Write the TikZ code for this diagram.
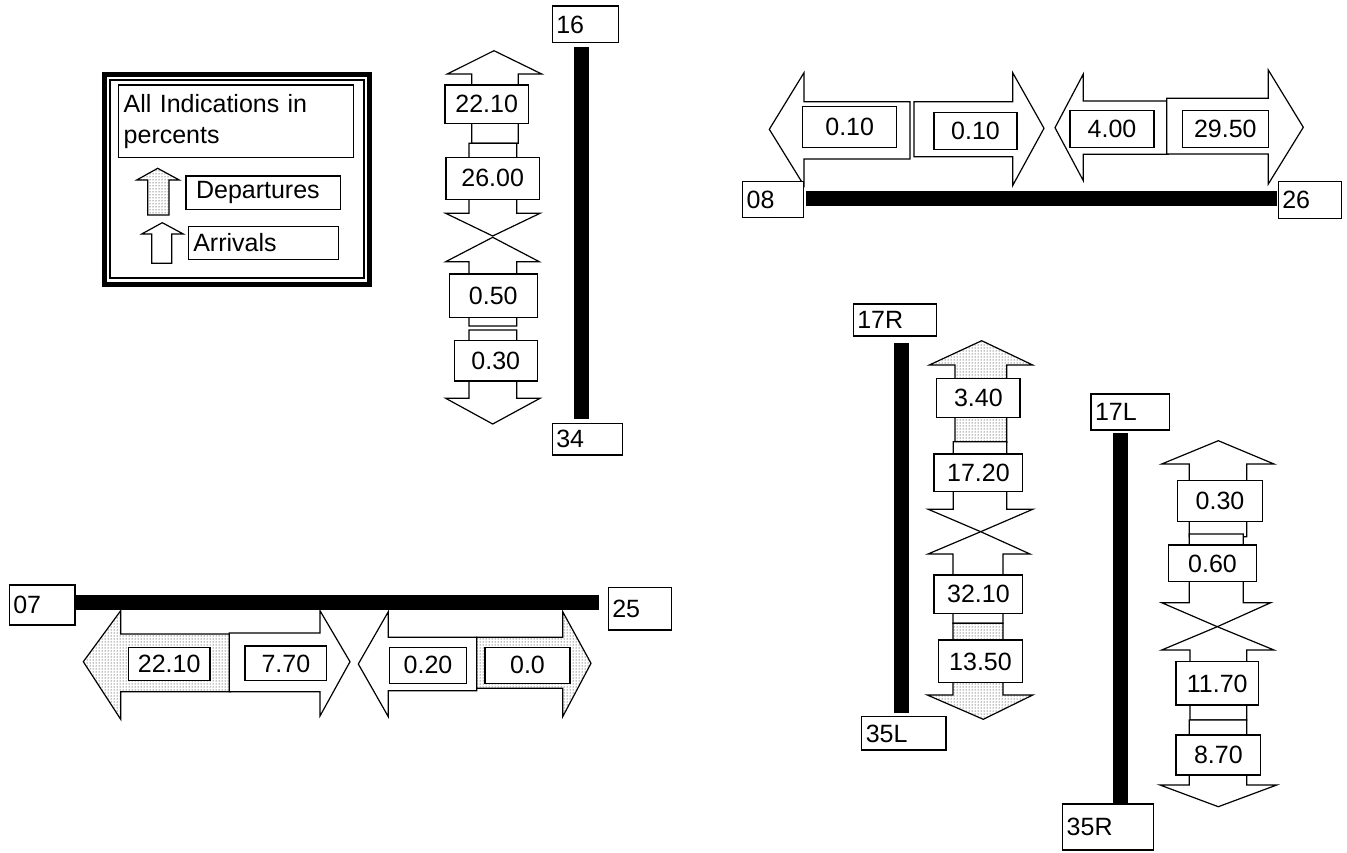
\documentclass[tikz,border=0pt]{standalone}
\usepackage{fontspec}
\setmainfont{Liberation Sans}
\usetikzlibrary{patterns}
\tikzset{
  arr/.style={draw, line width=1.2pt, fill=white, line join=miter},
  dep/.style={postaction={pattern=dots}},
  runway/.style={fill=black},
  rwylabel/.style={draw, fill=white, line width=1.2pt, inner xsep=4pt, inner ysep=0pt, align=left},
  valbox/.style={draw, fill=white, line width=1.2pt, inner sep=0pt}
}
% tip x, tip y, head base, wing l, wing r, shaft l, shaft r, tail
\newcommand{\vblock}[9][]{\draw[arr,#1] (#2,#3) -- (#6,#4) -- (#8,#4) -- (#8,#9) -- (#7,#9) -- (#7,#4) -- (#5,#4) -- cycle;}
% tip x, tip y, head base, wing top, wing bottom, shaft top, shaft bottom, tail
\newcommand{\hblock}[9][]{\draw[arr,#1] (#2,#3) -- (#4,#5) -- (#4,#7) -- (#9,#7) -- (#9,#8) -- (#4,#8) -- (#4,#6) -- cycle;}

\begin{document}
\begin{tikzpicture}[x=1pt, y=-1pt, every node/.style={font=\fontsize{25}{30}\selectfont}]
        \useasboundingbox (0,0) rectangle (1347,852);

        % legend
        \draw[line width=5pt] (104.2,74.2) rectangle (369.2,284.2);
        \draw[line width=1.2pt] (110,80) rectangle (364,278);
        \node (legend) [rwylabel, text width=225pt, minimum height=72.7pt, inner xsep=5pt, font=\fontsize{25}{31.7}\selectfont] at (236.2,121.4) {All Indications in\\percents};
        \vblock[dep]{157.7}{168.3}{180}{136.7}{179.3}{147.7}{169}{215}
        \vblock{162.3}{222.7}{234}{141.7}{183.3}{151.7}{171.7}{263.3}
        \node (depkey) [rwylabel, text width=134.7pt, inner xsep=10pt, minimum height=33.3pt] at (263.4,192.7) {Departures};
        \node (arrkey) [rwylabel, text width=140pt, inner xsep=5pt, minimum height=32.6pt] at (263.3,243) {Arrivals};

        % runway 16/34
        \fill[runway] (574,47.3) rectangle (589.3,419.3);
        \node (rwy16) [rwylabel, text width=58pt, minimum height=36.7pt] at (585.3,24.4) {16};
        \node (rwy34) [rwylabel, text width=62.4pt, minimum height=31.7pt] at (587.5,439.2) {34};
        \vblock{494}{50.7}{74}{447.3}{541.7}{471.7}{518.3}{143.3}
        \vblock{492.7}{236}{213.3}{445.7}{540}{469}{516.7}{143.3}
        \vblock{492.7}{237.3}{261.7}{445.7}{539.3}{469}{516.7}{326}
        \vblock{492.7}{424}{398.3}{445.7}{540}{469}{516.7}{330}
        \node (v16a) [valbox, minimum width=83.3pt, minimum height=38.3pt] at (486.7,104.2) {22.10};
        \node (v16b) [valbox, minimum width=93.3pt, minimum height=42pt] at (492.7,178.3) {26.00};
        \node (v34a) [valbox, minimum width=88pt, minimum height=43.3pt] at (493.3,295.7) {0.50};
        \node (v34b) [valbox, minimum width=83pt, minimum height=40.3pt] at (495.8,360.9) {0.30};

        % runway 08/26
        \fill[runway] (806,190.7) rectangle (1276.7,206);
        \hblock{769.3}{129.3}{804}{72.7}{185.5}{101.7}{159}{910}
        \hblock{1044}{128.3}{1012.7}{72.7}{185.5}{101.7}{156.7}{914}
        \hblock{1055}{127.7}{1083.3}{74}{180.7}{101}{154.3}{1168.3}
        \hblock{1303.3}{127.3}{1268.3}{70}{184}{98.3}{154}{1166.7}
        \node (rwy08) [rwylabel, text width=52.6pt, minimum height=35.6pt] at (773,199.5) {08};
        \node (rwy26) [rwylabel, text width=55.4pt, minimum height=36.6pt] at (1310,200) {26};
        \node (v08a) [valbox, minimum width=94pt, minimum height=40.6pt] at (849.7,127) {0.10};
        \node (v08b) [valbox, minimum width=83pt, minimum height=36.6pt] at (975.5,131) {0.10};
        \node (v26a) [valbox, minimum width=84pt, minimum height=36.6pt] at (1112,129) {4.00};
        \node (v26b) [valbox, minimum width=86pt, minimum height=36.6pt] at (1225.3,129) {29.50};

        % runway 07/25
        \fill[runway] (73.3,595) rectangle (599.3,609.5);
        \hblock[dep]{83.3}{661.7}{120.7}{610.7}{719.3}{634}{691.7}{230.7}
        \hblock{350}{661.7}{320}{610.7}{716}{633}{691.7}{229.3}
        \hblock{358.3}{664}{388.3}{611.7}{716.7}{637.3}{690.7}{476.7}
        \hblock[dep]{591}{663.3}{562.7}{611.7}{716.7}{637.3}{688.3}{476.7}
        \node (rwy07) [rwylabel, text width=57.7pt, minimum height=40pt] at (42.2,605) {07};
        \node (rwy25) [rwylabel, text width=55.4pt, minimum height=42.7pt] at (640,608.7) {25};
        \node (v07a) [valbox, minimum width=81.7pt, minimum height=33.4pt] at (169.2,664) {22.10};
        \node (v07b) [valbox, minimum width=81.7pt, minimum height=34.7pt] at (285.9,663.4) {7.70};
        \node (v25a) [valbox, minimum width=77.4pt, minimum height=36pt] at (428,665.3) {0.20};
        \node (v25b) [valbox, minimum width=85pt, minimum height=36pt] at (527.5,665.3) {0.0};

        % runway 17R/35L
        \fill[runway] (894,342.7) rectangle (909.3,713.3);
        \node (rwy17R) [rwylabel, text width=75.4pt, minimum height=32pt] at (895,320) {17R};
        \node (rwy35L) [rwylabel, text width=76.3pt, minimum height=33.3pt] at (903.9,733.4) {35L};
        \vblock[dep]{981.7}{340.7}{365}{929.3}{1032.7}{955}{1006.7}{442.7}
        \vblock{980.7}{531.7}{509.3}{928.3}{1032.7}{953.3}{1006.7}{441.7}
        \vblock{980.7}{531.7}{554}{928}{1030}{953}{1003}{623.3}
        \vblock[dep]{983.3}{719.3}{695}{927.3}{1032.7}{953}{1003}{623.3}
        \node (v17Ra) [valbox, minimum width=83.3pt, minimum height=39pt] at (978.4,397.8) {3.40};
        \node (v17Rb) [valbox, minimum width=88.7pt, minimum height=37.7pt] at (978.4,472.9) {17.20};
        \node (v35La) [valbox, minimum width=88.7pt, minimum height=38.3pt] at (978.4,594.2) {32.10};
        \node (v35Lb) [valbox, minimum width=84.4pt, minimum height=42.7pt] at (980.5,661.4) {13.50};

        % runway 17L/35R
        \fill[runway] (1112.5,432.7) rectangle (1127.5,802.7);
        \node (rwy17L) [rwylabel, text width=70.3pt, minimum height=36pt] at (1130.2,412) {17L};
        \node (rwy35R) [rwylabel, text width=82.6pt, minimum height=46pt] at (1108,827) {35R};
        \vblock{1218.3}{440.7}{464}{1161.7}{1274}{1189.3}{1246.7}{536.7}
        \vblock{1217.3}{626.7}{602.7}{1161.7}{1270.7}{1189.3}{1243.3}{534}
        \vblock{1217.3}{626.7}{650}{1161.7}{1274}{1190}{1246.7}{720}
        \vblock{1218.3}{806.7}{785}{1160}{1276.7}{1189.3}{1246.7}{720}
        \node (v17La) [valbox, minimum width=85.4pt, minimum height=41pt] at (1220,501.2) {0.30};
        \node (v17Lb) [valbox, minimum width=88.4pt, minimum height=36.7pt] at (1212.5,563.4) {0.60};
        \node (v35Ra) [valbox, minimum width=82.3pt, minimum height=43.3pt] at (1217.2,683.4) {11.70};
        \node (v35Rb) [valbox, minimum width=84.7pt, minimum height=40pt] at (1218.4,755) {8.70};
    \end{tikzpicture}
\end{document}
